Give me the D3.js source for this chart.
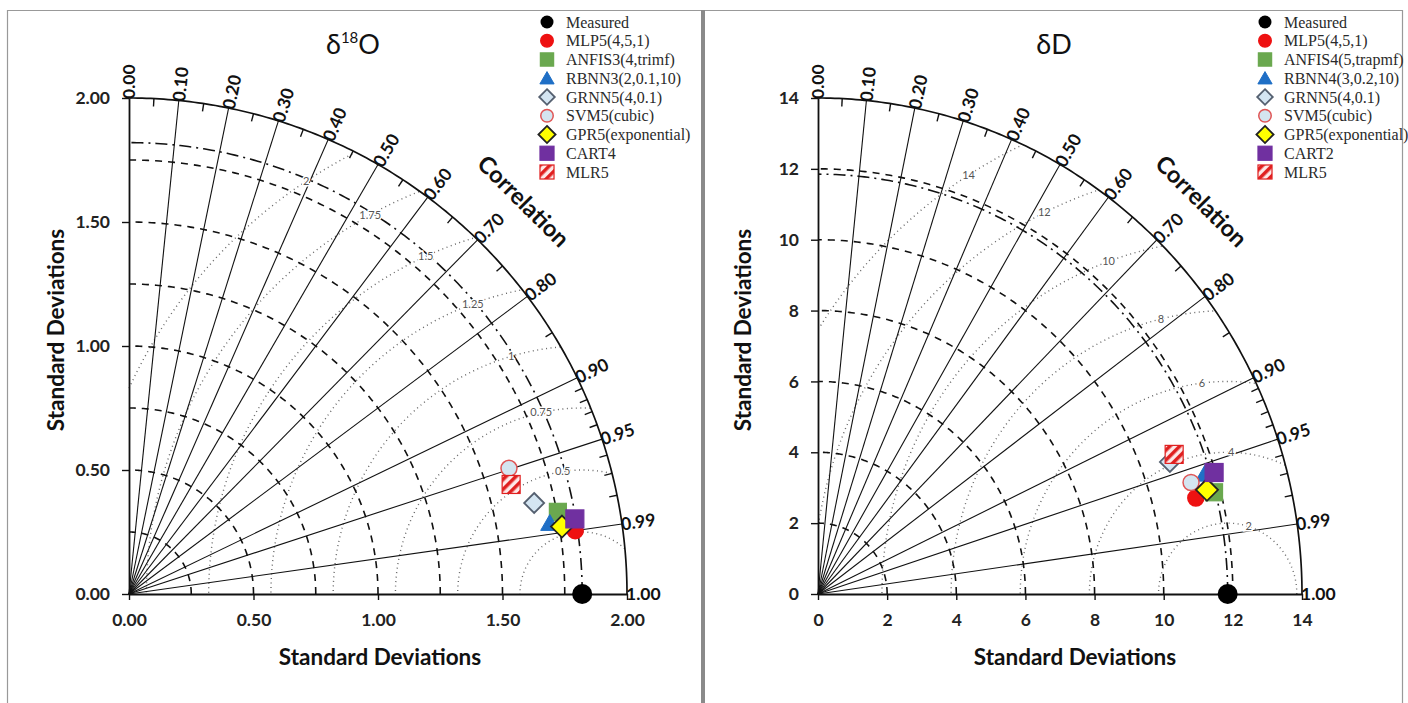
<!DOCTYPE html>
<html>
<head>
<meta charset="utf-8">
<script src="https://cdn.jsdelivr.net/npm/d3@7"></script>
<style>
body { margin: 0; background: #fff; }
svg { display: block; }
</style>
</head>
<body>
<svg id="chart" width="1408" height="703"></svg>
<script>
// --- delta 18O panel ---
const o18Models = ["MLP5(4,5,1)", "ANFIS3(4,trimf)", "RBNN3(2,0.1,10)", "GRNN5(4,0.1)", "SVM5(cubic)", "GPR5(exponential)", "CART4", "MLR5"];
const o18Std  = [1.810, 1.754, 1.714, 1.668, 1.608, 1.760, 1.816, 1.597];
const o18Corr = [0.990, 0.982, 0.986, 0.9755, 0.949, 0.988, 0.986, 0.961];
const o18Ref = 1.82;
const o18Ticks = [0, 0.5, 1, 1.5, 2];
const o18StdArcs = [0.25, 0.5, 0.75, 1, 1.25, 1.5, 1.75];
const o18Rms = [0.25, 0.5, 0.75, 1, 1.25, 1.5, 1.75, 2];
const o18RmsLabels = ["", "0.5", "0.75", "1", "1.25", "1.5", "1.75", "2"];

// --- delta D panel ---
const dDModels = ["MLP5(4,5,1)", "ANFIS4(5,trapmf)", "RBNN4(3,0.2,10)", "GRNN5(4,0.1)", "SVM5(cubic)", "GPR5(exponential)", "CART2", "MLR5"];
const dDStd  = [11.26, 11.81, 11.69, 10.84, 11.24, 11.63, 11.96, 11.03];
const dDCorr = [0.9706, 0.970, 0.957, 0.939, 0.960, 0.9675, 0.958, 0.934];
const dDRef = 11.85;
const dDTicks = [0, 2, 4, 6, 8, 10, 12, 14];
const dDStdArcs = [2, 4, 6, 8, 10, 12];
const dDRms = [2, 4, 6, 8, 10, 12, 14];
const dDRmsLabels = ["2", "4", "6", "8", "10", "12", "14"];

// correlation labels / minor ticks on the outer arc
const corrLabels = [0, 0.1, 0.2, 0.3, 0.4, 0.5, 0.6, 0.7, 0.8, 0.9, 0.95, 0.99, 1];
const corrMinor = [0.05, 0.15, 0.25, 0.35, 0.45, 0.55, 0.65, 0.75, 0.85, 0.91, 0.92, 0.93, 0.94, 0.96, 0.97, 0.98];

// marker look, one per model (same order in both panels)
const markerStyle = [
    {shape: "circle",   size: 8,  fill: "#ee1111", stroke: "#ee1111"},
    {shape: "square",   size: 17, fill: "#6aa84f", stroke: "#6aa84f"},
    {shape: "triangle", size: 17, fill: "#1f6fc6", stroke: "#1f6fc6"},
    {shape: "diamond",  size: 10, fill: "#d4e5f2", stroke: "#556070"},
    {shape: "circle",   size: 8,  fill: "#d4e5f0", stroke: "#e05555"},
    {shape: "diamond",  size: 11, fill: "#ffff00", stroke: "#222"},
    {shape: "square",   size: 18, fill: "#7030a0", stroke: "#7030a0"},
    {shape: "square",   size: 18, fill: "url(#hatch)", stroke: "#e02020"}
];

const svg = d3.select("#chart");
const sans = "Lato, 'Open Sans', sans-serif";
const serif = "'Liberation Serif', 'Times New Roman', serif";

const defs = svg.append("defs");
const hatch = defs.append("pattern")
    .attr("id", "hatch")
    .attr("patternUnits", "userSpaceOnUse")
    .attr("width", 7).attr("height", 7)
    .attr("patternTransform", "rotate(45)");
hatch.append("rect").attr("width", 7).attr("height", 7).attr("fill", "#fde8e8");
hatch.append("rect").attr("width", 3.5).attr("height", 7).attr("fill", "#e02020");

// panel frames
svg.append("line").attr("x1", 7).attr("x2", 1402).attr("y1", 10.5).attr("y2", 10.5)
    .attr("stroke", "#999").attr("stroke-width", 1.2);
svg.append("line").attr("x1", 7.5).attr("x2", 7.5).attr("y1", 10).attr("y2", 703)
    .attr("stroke", "#999").attr("stroke-width", 1.2);
svg.append("line").attr("x1", 1402.5).attr("x2", 1402.5).attr("y1", 10).attr("y2", 703)
    .attr("stroke", "#999").attr("stroke-width", 1.2);
svg.append("line").attr("x1", 703).attr("x2", 703).attr("y1", 10).attr("y2", 703)
    .attr("stroke", "#8a8a8a").attr("stroke-width", 4);

function drawMarker(g, st, x, y, k) {
    k = k || 1;
    if (st.shape == "circle") {
        g.append("circle").attr("cx", x).attr("cy", y).attr("r", st.size * k)
            .attr("fill", st.fill).attr("stroke", st.stroke).attr("stroke-width", 1.5);
    } else if (st.shape == "square") {
        const s = st.size * k;
        g.append("rect").attr("x", x - s / 2).attr("y", y - s / 2).attr("width", s).attr("height", s)
            .attr("fill", st.fill).attr("stroke", st.stroke).attr("stroke-width", 1.2);
    } else if (st.shape == "diamond") {
        const s = st.size * k;
        g.append("path").attr("d", `M${x},${y - s}L${x + s},${y}L${x},${y + s}L${x - s},${y}Z`)
            .attr("fill", st.fill).attr("stroke", st.stroke).attr("stroke-width", 1.8);
    } else {
        const sym = d3.symbol().type(d3.symbolTriangle).size(Math.pow(st.size * k, 2) * 0.5);
        g.append("path").attr("d", sym()).attr("transform", `translate(${x},${y + 2 * k})`)
            .attr("fill", st.fill).attr("stroke", st.stroke);
    }
}

function drawPanel(cfg) {
    const xs = d3.scaleLinear().domain([0, cfg.max]).range([cfg.x0, cfg.x1]);
    const ys = d3.scaleLinear().domain([0, cfg.max]).range([cfg.y0, cfg.y1]);
    const R = cfg.max;
    const pt = (s, c) => [xs(s * c), ys(s * Math.sqrt(Math.max(0, 1 - c * c)))];
    const g = svg.append("g");

    const line = d3.line().x(d => xs(d[0])).y(d => ys(d[1]));
    const arcPts = s => d3.range(0, 90.5, 0.5).map(a => [s * Math.cos(a * Math.PI / 180), s * Math.sin(a * Math.PI / 180)]);

    // RMS circles (dotted)
    const rmsLine = d3.line()
        .defined(d => d[0] >= 0 && d[1] >= 0 && Math.hypot(d[0], d[1]) <= R)
        .x(d => xs(d[0])).y(d => ys(d[1]));
    cfg.rms.forEach(r => {
        const pts = d3.range(0, 180.5, 0.5).map(a => [cfg.ref + r * Math.cos(a * Math.PI / 180), r * Math.sin(a * Math.PI / 180)]);
        g.append("path").attr("d", rmsLine(pts)).attr("fill", "none")
            .attr("stroke", "#666").attr("stroke-width", 1.4).attr("stroke-dasharray", "1,3.5");
    });

    // std arcs (dashed)
    cfg.stdArcs.forEach(s => {
        g.append("path").attr("d", line(arcPts(s))).attr("fill", "none")
            .attr("stroke", "#111").attr("stroke-width", 1.6).attr("stroke-dasharray", "7,6");
    });
    // reference std arc (dash-dot)
    g.append("path").attr("d", line(arcPts(cfg.ref))).attr("fill", "none")
        .attr("stroke", "#111").attr("stroke-width", 1.6).attr("stroke-dasharray", "12,5,2,5");

    // correlation spokes
    corrLabels.slice(1, -1).forEach(c => {
        const p = pt(R, c);
        g.append("line").attr("x1", xs(0)).attr("y1", ys(0)).attr("x2", p[0]).attr("y2", p[1])
            .attr("stroke", "#111").attr("stroke-width", 1.1);
    });

    // outer arc
    g.append("path").attr("d", line(arcPts(R))).attr("fill", "none")
        .attr("stroke", "#111").attr("stroke-width", 1.7);

    // minor ticks on outer arc
    corrMinor.forEach(c => {
        const a = pt(R, c), b = pt(R * 0.984, c);
        g.append("line").attr("x1", a[0]).attr("y1", a[1]).attr("x2", b[0]).attr("y2", b[1])
            .attr("stroke", "#111").attr("stroke-width", 1.4);
    });

    // correlation labels
    corrLabels.forEach(c => {
        const p = pt(R, c);
        const ang = Math.acos(c) * 180 / Math.PI;
        g.append("text").attr("transform", `translate(${p[0]},${p[1]}) rotate(${-ang})`)
            .attr("x", -1).attr("dy", "0.36em")
            .attr("font-family", sans).attr("font-weight", 700)
            .attr("font-size", 17.5).attr("fill", "#111")
            .text(c.toFixed(2));
    });

    // "Correlation"
    const cp = pt(R * 1.12, Math.cos(Math.PI / 4));
    g.append("text").attr("transform", `translate(${cp[0]},${cp[1]}) rotate(45)`)
        .attr("text-anchor", "middle").attr("dy", "0.35em")
        .attr("font-family", sans).attr("font-weight", 700)
        .attr("font-size", 23.5).attr("fill", "#111").text("Correlation");

    // RMS labels, placed where each circle crosses a fixed std radius
    cfg.rms.forEach((r, i) => {
        const lbl = cfg.rmsLabels[i];
        if (!lbl) return;
        const L = cfg.labelR;
        const cosphi = (L * L + cfg.ref * cfg.ref - r * r) / (2 * L * cfg.ref);
        const phi = Math.acos(Math.max(-1, Math.min(1, cosphi)));
        g.append("text")
            .attr("x", xs(L * Math.cos(phi))).attr("y", ys(L * Math.sin(phi)))
            .attr("text-anchor", "middle").attr("dy", "0.35em")
            .attr("font-family", sans).attr("font-size", 11).attr("fill", "#555")
            .attr("stroke", "#fff").attr("stroke-width", 3).attr("paint-order", "stroke")
            .text(lbl);
    });

    // axes
    const fmt = cfg.fmt;
    const yAxis = g.append("g").attr("transform", `translate(${xs(0)},0)`)
        .call(d3.axisLeft(ys).tickValues(cfg.ticks).tickFormat(fmt).tickSize(7).tickSizeOuter(0).tickPadding(12));
    const xAxis = g.append("g").attr("transform", `translate(0,${ys(0)})`)
        .call(d3.axisBottom(xs).tickValues(cfg.ticks).tickFormat(fmt).tickSize(6).tickSizeOuter(0).tickPadding(14));
    [yAxis, xAxis].forEach(ax => {
        ax.select(".domain").attr("stroke", "#111").attr("stroke-width", 1.8);
        ax.selectAll(".tick line").attr("stroke", "#111").attr("stroke-width", 1.4);
        ax.selectAll(".tick text").attr("font-family", sans)
            .attr("font-weight", 700).attr("font-size", 17.5).attr("fill", "#222");
    });

    // axis titles
    g.append("text").attr("x", cfg.xTitleX).attr("y", 665).attr("text-anchor", "middle")
        .attr("font-family", sans).attr("font-weight", 700)
        .attr("font-size", 22.5).attr("fill", "#111").text("Standard Deviations");
    g.append("text").attr("transform", `translate(${cfg.yTitleX},${330}) rotate(-90)`)
        .attr("text-anchor", "middle")
        .attr("font-family", sans).attr("font-weight", 700)
        .attr("font-size", 22.5).attr("fill", "#111").text("Standard Deviations");

    // title
    const t = g.append("text").attr("x", cfg.titleX).attr("y", 54).attr("text-anchor", "middle")
        .attr("font-family", sans).attr("font-size", 27).attr("fill", "#111");
    t.append("tspan").text("δ");
    if (cfg.sup) t.append("tspan").attr("font-size", 15).attr("dy", -11).text(cfg.sup);
    t.append("tspan").attr("dy", cfg.sup ? 11 : 0).text(cfg.iso);

    // measured point
    g.append("circle").attr("cx", xs(cfg.ref)).attr("cy", ys(0)).attr("r", 10).attr("fill", "#000");

    // model points
    cfg.std.forEach((s, i) => {
        const p = pt(s, cfg.corr[i]);
        drawMarker(g, markerStyle[i], p[0], p[1], 1);
    });

    // legend
    const lg = g.append("g");
    const rowY = i => 22 + i * 18.75;
    lg.append("circle").attr("cx", cfg.legX).attr("cy", rowY(0)).attr("r", 6.5).attr("fill", "#000");
    lg.append("text").attr("x", cfg.legX + 19).attr("y", rowY(0)).attr("dy", "0.35em")
        .attr("font-family", serif).attr("font-size", 16)
        .attr("fill", "#2a2a2a").text("Measured");
    cfg.models.forEach((m, i) => {
        drawMarker(lg, markerStyle[i], cfg.legX, rowY(i + 1), 0.78);
        lg.append("text").attr("x", cfg.legX + 19).attr("y", rowY(i + 1)).attr("dy", "0.35em")
            .attr("font-family", serif).attr("font-size", 16)
            .attr("fill", "#2a2a2a").text(m);
    });
}

drawPanel({
    max: 2, x0: 129, x1: 627, y0: 594, y1: 98,
    ref: o18Ref, std: o18Std, corr: o18Corr, models: o18Models,
    ticks: o18Ticks, stdArcs: o18StdArcs, rms: o18Rms, rmsLabels: o18RmsLabels, labelR: 1.81,
    fmt: d3.format(".2f"), xTitleX: 380, yTitleX: 64, titleX: 353, sup: "18", iso: "O", legX: 547
});

drawPanel({
    max: 14, x0: 818, x1: 1302, y0: 594, y1: 98,
    ref: dDRef, std: dDStd, corr: dDCorr, models: dDModels,
    ticks: dDTicks, stdArcs: dDStdArcs, rms: dDRms, rmsLabels: dDRmsLabels, labelR: 12.6,
    fmt: d3.format("d"), xTitleX: 1075, yTitleX: 751, titleX: 1054, sup: null, iso: "D", legX: 1265
});
</script>
</body>
</html>
